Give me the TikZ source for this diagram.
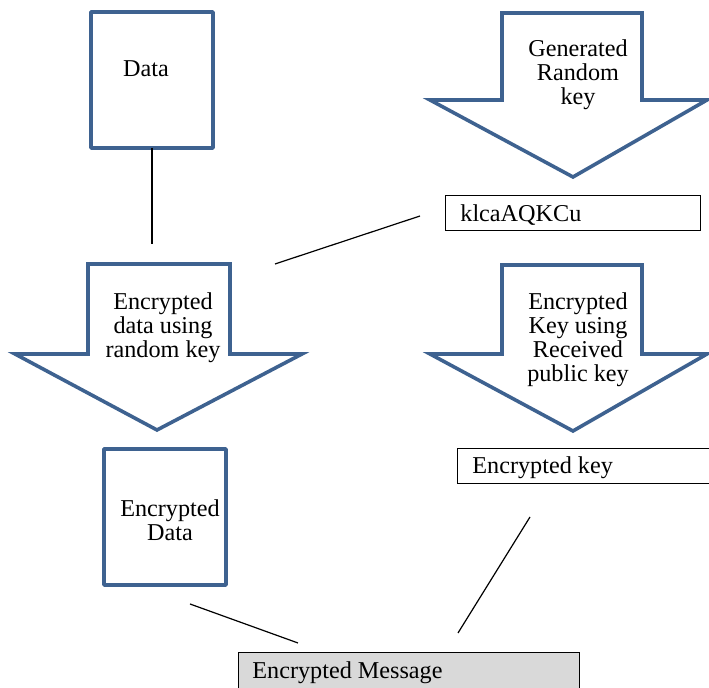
\documentclass[tikz,border=0pt]{standalone}
\usepackage{fontspec}
\setmainfont{Liberation Serif}
\definecolor{shapeblue}{HTML}{3E6290}
\definecolor{msggray}{HTML}{D9D9D9}
\tikzset{
  bluebox/.style={draw=shapeblue, line width=1.8pt, fill=white, line join=round},
  bigarrow/.style={draw=shapeblue, line width=1.8pt, fill=white, line join=miter},
  plainbox/.style={draw=black, line width=0.5pt},
  label/.style={font=\fontsize{12.1}{12}\selectfont, align=center, inner sep=0pt},
  leftlabel/.style={font=\fontsize{12.1}{12}\selectfont, anchor=west, inner sep=0pt},
  link/.style={draw=black, line width=0.6pt}
}
\begin{document}
\begin{tikzpicture}[x=0.5pt, y=-0.5pt]
\useasboundingbox (0,0) rectangle (709,688);

% Plain data document
\draw[bluebox] (91,12) rectangle (213,148);
\node[label] (data) at (146,69) {Data};

% Generated random key arrow
\draw[bigarrow] (502,13) -- (642,13) -- (642,100) -- (707,100) -- (573,177)
  -- (430,100) -- (502,100) -- cycle;
\node[label] (genkey) at (578,75) {Generated\\Random\\key};

% The generated key
\draw[plainbox] (445,196) rectangle (700,231);
\node[leftlabel] (keyval) at (460,215) {klcaAQKCu};

% Encrypt data with the random key
\draw[bigarrow] (88,264) -- (230,264) -- (230,354) -- (302,354) -- (157,430)
  -- (15,354) -- (88,354) -- cycle;
\node[label] (encdata) at (163,328) {Encrypted\\data using\\random key};

% Encrypt key with the received public key
\draw[bigarrow] (502,265) -- (642,265) -- (642,354) -- (707,354) -- (573,431)
  -- (430,354) -- (502,354) -- cycle;
\node[label] (enckey) at (578,340) {Encrypted\\Key using\\Received\\public key};

% Encrypted key result
\draw[plainbox] (457,449) rectangle (712,484);
\node[leftlabel] (enckeyval) at (472,468) {Encrypted key};

% Encrypted data document
\draw[bluebox] (104,449) rectangle (226,585);
\node[label] (encdoc) at (170,520) {Encrypted\\Data};

% Final encrypted message
\draw[plainbox, fill=msggray] (238,653) rectangle (579,692);
\node[leftlabel] (msg) at (252,673) {Encrypted Message};

% Connecting lines
\coordinate (d1) at (152,148);
\coordinate (d2) at (152,244);
\coordinate (k1) at (420,216);
\coordinate (k2) at (275,264);
\coordinate (e1) at (190,604);
\coordinate (e2) at (298,643);
\coordinate (f1) at (530,517);
\coordinate (f2) at (458,633);
\draw[link] (d1) -- (d2);
\draw[link] (k1) -- (k2);
\draw[link] (e1) -- (e2);
\draw[link] (f1) -- (f2);
\end{tikzpicture}
\end{document}
